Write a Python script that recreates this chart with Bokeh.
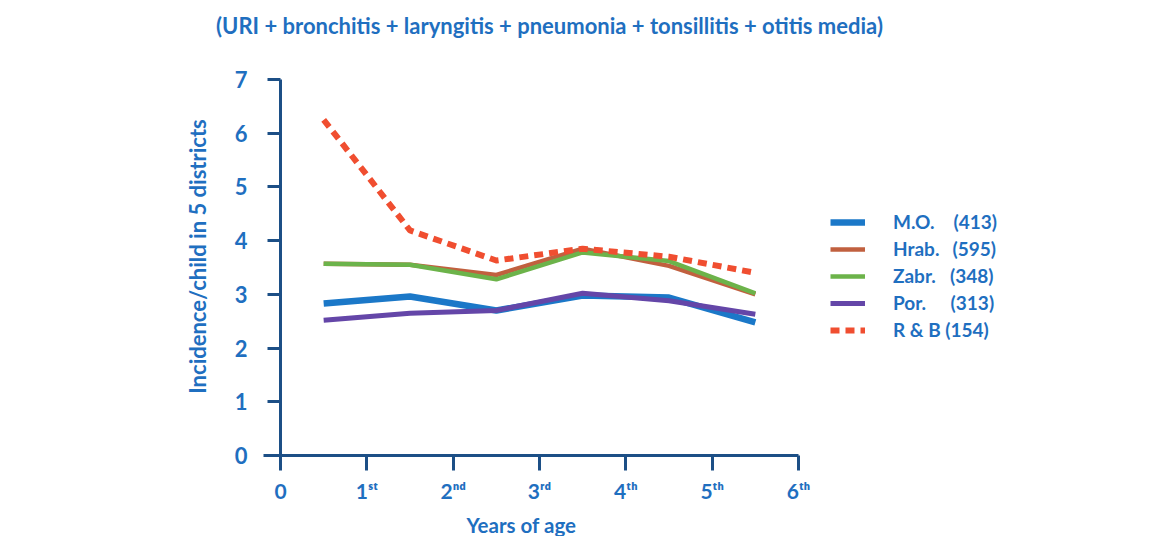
import math
from bokeh.plotting import figure
from bokeh.models import Range1d, FixedTicker, Legend, LegendItem, ColumnDataSource, Label
from bokeh.embed import file_html
from bokeh.resources import INLINE

# ---- data ----
ages = [0.5, 1.5, 2.5, 3.5, 4.5, 5.5]
mo = [2.83, 2.96, 2.70, 2.98, 2.94, 2.48]
hrab = [3.57, 3.55, 3.36, 3.85, 3.53, 3.00]
zabr = [3.57, 3.55, 3.28, 3.78, 3.62, 3.02]
por = [2.52, 2.65, 2.70, 3.02, 2.88, 2.63]
rb = [6.25, 4.19, 3.63, 3.85, 3.70, 3.40]

series_names = ["M.O.", "Hrab.", "Zabr.", "Por.", "R & B"]
series_counts = ["(413)", "(595)", "(348)", "(313)", "(154)"]
x_ticks = [0, 1, 2, 3, 4, 5, 6]
x_tick_labels = ["0", "1\u02e2\u1d57", "2\u207f\u1d48", "3\u02b3\u1d48", "4\u1d57\u02b0", "5\u1d57\u02b0", "6\u1d57\u02b0"]
y_ticks = [0, 1, 2, 3, 4, 5, 6, 7]

TITLE = "(URI + bronchitis + laryngitis + pneumonia + tonsillitis + otitis media)"
X_LABEL = "Years of age"
Y_LABEL = "Incidence/child in 5 districts"
FONT = "Lato"
BLUE_TXT = "#1f6fc0"
AXIS_COL = "#1c4f86"

W, H = 1149, 536
LEFT, RIGHT6, TOP7, BOTTOM0 = 280, 798, 79, 455
xu = (RIGHT6 - LEFT) / 6.0
yu = (BOTTOM0 - TOP7) / 7.0

p = figure(width=W, height=H, output_backend="svg", toolbar_location=None,
           x_range=Range1d(-LEFT / xu, (W - LEFT) / xu),
           y_range=Range1d(-(H - BOTTOM0) / yu, BOTTOM0 / yu),
           min_border_left=0, min_border_right=0, min_border_top=0, min_border_bottom=0)

p.grid.visible = False
p.outline_line_color = None
p.background_fill_color = "white"
p.border_fill_color = "white"

for ax in (p.xaxis[0], p.yaxis[0]):
    ax.fixed_location = 0
    ax.axis_line_color = AXIS_COL
    ax.axis_line_width = 3
    ax.major_tick_line_color = AXIS_COL
    ax.major_tick_line_width = 3
    ax.minor_tick_line_color = None
    ax.major_tick_in = 0
    ax.major_label_text_color = BLUE_TXT
    ax.major_label_text_font = FONT
    ax.major_label_text_font_style = "bold"

p.xaxis.bounds = (-0.2, 6)
p.xaxis.ticker = FixedTicker(ticks=x_ticks)
p.xaxis.major_label_overrides = {t: l for t, l in zip(x_ticks, x_tick_labels)}
p.xaxis.major_tick_out = 15
p.xaxis.major_label_standoff = 7
p.xaxis.major_label_text_font_size = "21px"

p.yaxis.bounds = (-0.2, 7)
p.yaxis.ticker = FixedTicker(ticks=y_ticks)
p.yaxis.major_tick_out = 13
p.yaxis.major_label_standoff = 20
p.yaxis.major_label_text_font_size = "22px"

def txt(text, px, py, size, angle=0.0):
    lab = Label(x=(px - LEFT) / xu, y=(BOTTOM0 - py) / yu, x_units="data", y_units="data",
                text=text, angle=angle, text_align="center", text_baseline="middle",
                text_font=FONT, text_font_size=size, text_font_style="bold", text_color=BLUE_TXT)
    p.add_layout(lab)

txt(TITLE, 549, 25, "22px")
txt(X_LABEL, 521, 524, "20.5px")
txt(Y_LABEL, 197, 256, "22px", angle=math.pi / 2)

colors = ["#1b78c8", "#c1603f", "#6cb34a", "#6446a8", "#f04e30"]
widths = [6.5, 4.5, 4.5, 5, 6]
dashes = ["solid", "solid", "solid", "solid", "9 6"]
data = [mo, hrab, zabr, por, rb]
draw_order = [1, 2, 0, 3, 4]
renderers = {}
for i in draw_order:
    src = ColumnDataSource(dict(x=ages, y=data[i]))
    renderers[i] = p.line("x", "y", source=src, line_color=colors[i], line_width=widths[i],
                          line_dash=dashes[i], line_join="round")

pads = ["\u2002\u2002", "\u2002\u2009\u200a", "\u2002\u2009\u2009", "\u2002\u2002\u2009\u2006", " "]
items = [LegendItem(label=series_names[i] + pads[i] + series_counts[i], renderers=[renderers[i]])
         for i in range(5)]
legend = Legend(items=items, location=(830, (H - BOTTOM0) + 114))
legend.border_line_color = None
legend.background_fill_alpha = 0
legend.margin = 0
legend.padding = 0
legend.glyph_width = 35
legend.glyph_height = 20
legend.label_height = 20
legend.label_standoff = 28
legend.spacing = 4
legend.label_text_font = FONT
legend.label_text_font_style = "bold"
legend.label_text_font_size = "19px"
legend.label_text_color = BLUE_TXT
p.add_layout(legend, "center")

open("out.html", "w").write(file_html(p, INLINE))
